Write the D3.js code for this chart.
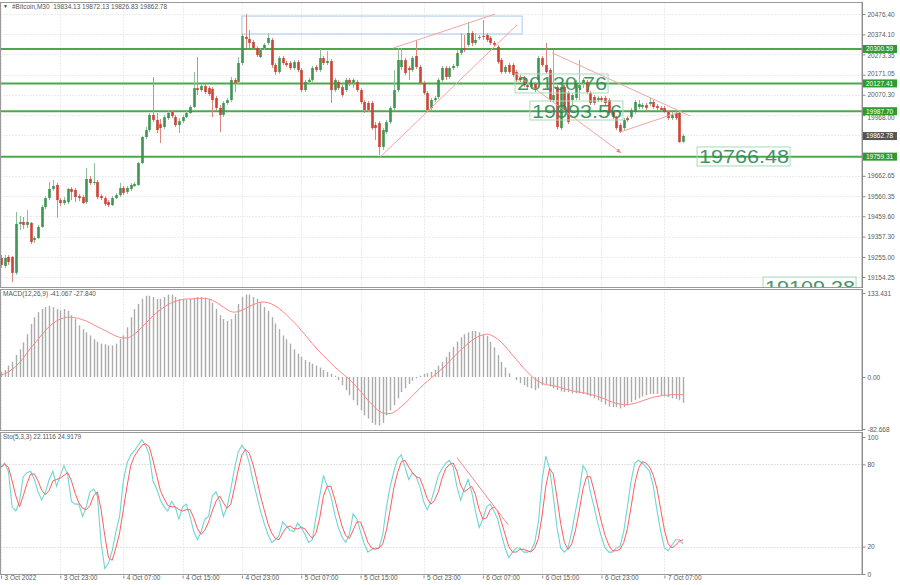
<!DOCTYPE html>
<html><head><meta charset="utf-8">
<script src="https://cdn.jsdelivr.net/npm/d3@7"></script>
<style>body{margin:0;background:#fff}svg{display:block}text{font-family:"Liberation Sans",Arial,sans-serif}</style>
</head><body><svg id="c" width="900" height="585"></svg>
<script>
// ---- DATA ----
const symbolTitle = "#Bitcoin,M30  19834.13 19872.13 19826.83 19862.78";
const macdTitle = "MACD(12,26,9) -41.067 -27.840";
const stochTitle = "Sto(5,3,3) 22.1116 24.9179";
const open=[19250,19210,19255,19255,19175,19421,19431,19416,19426,19340,
19350,19406,19506,19551,19597,19617,19541,19526,19531,19597,
19592,19561,19556,19531,19647,19627,19632,19561,19551,19531,
19516,19551,19566,19602,19582,19597,19612,19617,19727,19858,
19893,19969,19944,19923,19908,19953,19984,19958,19918,19938,
19958,19979,20009,20104,20094,20114,20104,20099,20054,20004,
19969,20029,20044,20145,20135,20230,20361,20351,20336,20305,
20260,20305,20331,20346,20220,20185,20255,20230,20230,20205,
20235,20195,20094,20135,20145,20210,20195,20255,20230,20240,
20094,20135,20109,20094,20145,20130,20135,20094,20034,20029,
20029,19918,19928,19808,19883,19933,20004,20094,20210,20245,
20205,20195,20265,20210,20130,20079,20004,20044,20059,20145,
20205,20160,20205,20215,20280,20305,20321,20381,20331,20356,
20366,20371,20356,20331,20311,20245,20185,20220,20220,20185,
20160,20155,20119,20109,20124,20145,20255,20220,20195,20044,
20109,19903,20109,20079,20044,20054,20104,20130,20135,20079,
20059,20044,20054,20054,20044,19984,19953,19918,19903,19953,
19958,19984,20009,20009,20019,20024,20034,20014,20004,20004,
19984,19953,19979,19979,19834];
const close=[19215,19250,19230,19175,19421,19431,19416,19431,19330,19350,
19406,19506,19551,19597,19612,19541,19526,19541,19597,19582,
19556,19551,19526,19647,19627,19632,19556,19551,19521,19516,
19551,19566,19602,19577,19602,19617,19622,19727,19858,19893,
19969,19944,19893,19903,19958,19979,19964,19918,19938,19958,
19979,20009,20104,20094,20114,20084,20074,20044,20004,19969,
20029,20044,20145,20130,20230,20366,20351,20331,20305,20270,
20295,20321,20356,20220,20185,20255,20230,20220,20205,20235,
20195,20094,20135,20145,20205,20195,20255,20230,20240,20094,
20145,20104,20069,20145,20130,20145,20094,20034,19994,19994,
19903,19903,19808,19893,19933,20004,20094,20245,20245,20180,
20195,20255,20210,20130,20079,19994,20044,20054,20145,20205,
20160,20205,20215,20280,20305,20295,20381,20331,20346,20361,
20361,20346,20331,20321,20235,20185,20210,20185,20170,20145,
20145,20119,20109,20130,20094,20255,20220,20185,20044,20069,
19908,20109,19994,19933,20069,20130,20119,20145,20084,20029,
20029,20054,20044,20029,19979,19958,19903,19883,19943,19943,
19994,20034,20024,20019,20004,20034,20009,20004,19994,19984,
19953,19969,19953,19833,19863];
const high=[19265,19265,19265,19260,19481,19461,19456,19491,19431,19360,
19416,19516,19561,19632,19642,19627,19551,19556,19602,19607,
19602,19571,19566,19702,19662,19727,19642,19571,19561,19541,
19561,19577,19627,19612,19612,19627,19632,19732,19863,19908,
19979,20160,19979,19948,19969,19989,19994,19969,19953,19969,
19989,20019,20185,20260,20124,20124,20114,20109,20064,20019,
20039,20054,20160,20155,20260,20376,20476,20396,20346,20315,
20305,20331,20381,20356,20230,20265,20265,20240,20240,20245,
20245,20205,20145,20155,20215,20220,20300,20265,20290,20250,
20155,20145,20119,20155,20155,20155,20145,20104,20044,20039,
20039,19933,19938,19903,19943,20014,20195,20305,20305,20255,
20215,20265,20346,20220,20140,20089,20054,20064,20155,20215,
20215,20215,20225,20295,20381,20371,20436,20391,20381,20371,
20446,20381,20366,20341,20321,20255,20220,20230,20230,20195,
20170,20165,20130,20140,20135,20265,20265,20331,20205,20295,
20119,20119,20119,20089,20079,20145,20245,20155,20145,20089,
20069,20064,20064,20064,20054,19994,19963,19928,19953,19963,
20004,20044,20044,20029,20029,20054,20044,20024,20014,20014,
19994,19984,19989,19989,19873];
const low=[19200,19200,19215,19129,19165,19391,19396,19401,19320,19325,
19345,19401,19496,19541,19587,19451,19511,19516,19521,19541,
19531,19536,19521,19521,19617,19617,19546,19541,19511,19506,
19511,19546,19556,19566,19571,19587,19607,19612,19722,19848,
19883,19933,19878,19828,19898,19944,19953,19908,19878,19928,
19953,19974,20004,20069,20084,20074,20064,19958,19994,19883,
19958,20019,20034,20084,20124,20220,20305,20305,20295,20260,
20255,20295,20321,20205,20170,20175,20220,20210,20195,20195,
20185,20084,20084,20124,20135,20185,20185,20220,20220,20029,
20084,20094,20059,20084,20114,20104,20084,20024,19979,19984,
19893,19843,19768,19793,19873,19923,19994,20084,20195,20170,
20145,20185,20200,20119,20069,19984,19994,20034,20049,20135,
20145,20150,20195,20205,20270,20285,20311,20315,20321,20346,
20346,20336,20321,20311,20225,20175,20175,20175,20160,20135,
20135,20109,20099,20099,20084,20135,20210,20175,20034,20034,
19898,19893,19984,19923,20019,20044,20044,20104,20074,20019,
20019,20034,20034,20019,19969,19948,19893,19878,19893,19933,
19948,19974,19999,19999,19994,20014,19999,19994,19984,19979,
19943,19943,19943,19828,19827];
const macdHist=[8,11,18,24,35,44,55,68,84,95,103,108,111,113,111,108,106,108,105,98,
92,82,76,71,66,60,56,53,52,50,50,53,60,66,79,95,108,116,124,129,
129,127,124,124,127,131,131,127,124,124,123,124,126,127,127,126,124,118,108,98,
92,89,92,100,116,127,131,131,127,124,119,111,105,95,85,76,66,60,53,44,
37,32,27,24,21,18,15,11,8,5,2,-5,-13,-21,-29,-37,-45,-53,-61,-66,
-73,-76,-77,-73,-61,-53,-45,-34,-24,-18,-11,-6,-2,2,5,6,8,11,18,24,
32,40,48,56,63,68,71,73,73,71,68,65,56,47,35,24,15,6,0,-5,
-10,-13,-16,-18,-21,-18,-13,-11,-15,-18,-21,-23,-24,-24,-26,-26,-26,-27,-29,-31,
-34,-37,-40,-44,-47,-48,-48,-50,-48,-45,-40,-37,-34,-31,-29,-27,-27,-27,-29,-31,
-32,-34,-35,-37,-41];
const macdSignal=[3,5,8,12,17,23,30,38,46,53,60,67,74,80,85,89,92,94,95,95,
94,93,91,89,86,83,80,77,74,71,68,65,63,62,62,64,68,73,79,85,
91,97,102,107,111,115,118,120,122,123,124,124,124,125,125,125,124,122,119,115,
111,107,104,103,104,106,109,112,115,117,119,119,118,116,113,109,104,99,93,87,
81,74,67,60,53,46,40,34,28,22,16,11,6,1,-4,-10,-16,-23,-30,-37,
-43,-49,-54,-57,-58,-58,-56,-52,-47,-42,-36,-30,-24,-18,-12,-7,-2,3,8,13,
19,25,31,37,43,48,53,58,62,65,67,68,67,64,60,55,49,42,35,28,
21,14,8,2,-3,-7,-10,-12,-13,-14,-15,-17,-19,-20,-22,-23,-24,-25,-26,-28,
-29,-31,-33,-35,-38,-40,-42,-43,-44,-44,-43,-42,-40,-38,-36,-34,-32,-31,-30,-29,
-29,-28,-28,-28,-28];
const stochMain=[78,81,75,49,46,53,71,74,75,69,60,54,60,69,75,64,72,79,72,53,
51,51,42,49,60,62,57,23,4,8,17,31,42,68,81,87,90,94,98,94,
87,68,62,54,49,46,53,49,40,49,51,42,31,25,31,40,42,57,60,53,
42,49,62,77,89,94,90,81,68,57,46,37,29,23,25,28,38,35,32,31,
37,34,29,23,25,42,57,72,64,57,44,34,27,23,29,44,40,31,22,16,
18,19,19,29,49,64,75,84,87,78,69,74,71,64,53,47,53,62,72,77,
81,83,78,64,54,62,69,60,46,34,40,49,51,46,40,29,19,12,16,19,
19,16,16,17,23,38,69,86,77,57,34,19,16,19,31,46,60,79,75,60,
49,37,27,19,16,16,19,20,31,49,68,81,83,81,78,75,64,46,31,19,
17,21,25,25,22];
const stochSignal=[78,80,78,68,57,49,57,66,73,73,68,61,58,61,68,69,70,72,74,68,
59,52,48,47,50,57,60,47,28,12,10,19,30,47,64,79,86,90,94,95,
93,83,72,61,55,50,49,49,47,46,47,47,41,33,29,32,38,46,53,57,
52,48,51,63,76,87,91,88,80,69,57,47,37,30,26,25,30,34,35,33,
33,34,33,29,26,30,41,57,64,64,55,45,35,28,26,32,38,38,31,23,
19,18,19,22,32,47,63,74,82,83,78,74,71,70,63,55,51,54,60,70,
77,80,81,75,65,60,62,64,58,47,40,41,47,49,46,38,29,20,16,16,
18,18,17,16,19,26,43,64,77,73,56,37,23,18,22,32,46,62,71,71,
61,49,38,28,21,17,17,18,23,33,49,66,77,82,81,78,72,62,47,32,
22,19,21,24,25];
const timeLabels=["3 Oct 2022","3 Oct 23:00","4 Oct 07:00","4 Oct 15:00","4 Oct 23:00","5 Oct 07:00","5 Oct 15:00","5 Oct 23:00","6 Oct 07:00","6 Oct 15:00","6 Oct 23:00","7 Oct 07:00"];
const timeLabelBars=[0,16,33,49,65,81,97,114,130,146,162,179];
const gridPrices=[20476.40,20374.10,20273.35,20171.05,20070.30,19968.00,19865.70,19764.95,19662.65,19560.35,19459.60,19357.30,19255.00,19154.25];
const priceTicks=[20476.40,20374.10,20273.35,20171.05,20070.30,19968.00,19662.65,19560.35,19459.60,19357.30,19255.00,19154.25];
const macdTicks=[133.431,0,-82.668];
const macdTickLabels=["133.431","0.00","-82.668"];
const stochTicks=[100,80,20,0];
const levels=[20300.59,20127.41,19987.70,19759.31];
const bidPrice=19862.78;
const trendLines=[[102.3,19757,139.2,20421],[105.8,20305,133.3,20476],[148.7,20281,185.9,19964],[139.5,20165,167.3,19778],[167,19883,182.4,19979]];
const arrowLine=3;
const boxAnno=[65.0,20466,140.6,20376];
const stochLine=[123,85,136.8,36];
const textLabels=["20130.76","19993.56","19766.48","19109.38"];
const textBars=[138.7,142.7,187.8,205.6];
const textPrices=[20175,20039,19808,19154];

// ---- DRAW ----
const svg=d3.select("#c");
const AX=862;
const P={main:[2,288],macd:[289,431],sto:[432,575]};
const x=d3.scaleLinear().domain([0,open.length-1]).range([1,683]);
const yM=d3.scaleLinear().domain([19154.25,20476.40]).range([277,14]);
const yD=d3.scaleLinear().domain([-82.668,133.431]).range([429,293]);
const yS=d3.scaleLinear().domain([0,100]).range([574,437]);
const defs=svg.append("defs");
Object.entries(P).forEach(([k,[a,b]])=>{
  defs.append("clipPath").attr("id","cl-"+k).append("rect").attr("x",0).attr("y",a).attr("width",AX).attr("height",b-a);
});
const grid="#ececec";
Object.entries(P).forEach(([k,[a,b]])=>{
  svg.append("g").selectAll("line").data(timeLabelBars).join("line")
    .attr("x1",d=>Math.round(x(d))+0.5).attr("x2",d=>Math.round(x(d))+0.5)
    .attr("y1",a).attr("y2",b).attr("stroke",grid).attr("stroke-dasharray","2,1");
});
svg.append("g").selectAll("line").data(gridPrices).join("line")
  .attr("x1",0).attr("x2",AX).attr("y1",d=>Math.round(yM(d))+0.5).attr("y2",d=>Math.round(yM(d))+0.5)
  .attr("stroke",grid).attr("stroke-dasharray","2,1");
svg.append("g").selectAll("line").data([80,20]).join("line")
  .attr("x1",0).attr("x2",AX).attr("y1",d=>Math.round(yS(d))+0.5).attr("y2",d=>Math.round(yS(d))+0.5)
  .attr("stroke","#e2e2e2").attr("stroke-dasharray","2,1");

// main panel
const gm=svg.append("g").attr("clip-path","url(#cl-main)");
gm.selectAll("line.lvl").data(levels).join("line").attr("class","lvl")
  .attr("x1",0).attr("x2",AX).attr("y1",d=>yM(d)).attr("y2",d=>yM(d))
  .attr("stroke","#4aaa4a").attr("stroke-width",2);
gm.append("rect").attr("x",x(boxAnno[0])).attr("y",yM(boxAnno[1]))
  .attr("width",x(boxAnno[2])-x(boxAnno[0])).attr("height",yM(boxAnno[3])-yM(boxAnno[1]))
  .attr("fill","none").attr("stroke","#a8c8ea").attr("stroke-width",1);
const idx=d3.range(open.length);
const up="#3f9552", dn="#cf4334";
gm.append("g").selectAll("line").data(idx).join("line")
  .attr("x1",i=>Math.round(x(i))+0.5).attr("x2",i=>Math.round(x(i))+0.5)
  .attr("y1",i=>yM(high[i])).attr("y2",i=>yM(low[i]))
  .attr("stroke",i=>close[i]>=open[i]?"#8fbf98":"#d98a80").attr("stroke-width",1);
gm.append("g").selectAll("rect").data(idx).join("rect")
  .attr("x",i=>Math.round(x(i))-0.8).attr("width",2.6)
  .attr("y",i=>yM(Math.max(open[i],close[i])))
  .attr("height",i=>Math.max(1,Math.abs(yM(open[i])-yM(close[i]))))
  .attr("fill",i=>close[i]>=open[i]?up:dn);
gm.append("g").selectAll("line").data(trendLines).join("line")
  .attr("x1",d=>x(d[0])).attr("y1",d=>yM(d[1])).attr("x2",d=>x(d[2])).attr("y2",d=>yM(d[3]))
  .attr("stroke","#f5a3a3").attr("stroke-width",1);
{
  const d=trendLines[arrowLine];
  const x2=x(d[2]),y2=yM(d[3]),ang=Math.atan2(y2-yM(d[1]),x2-x(d[0]));
  const pts=[[x2,y2],[x2-5*Math.cos(ang-0.4),y2-5*Math.sin(ang-0.4)],[x2-5*Math.cos(ang+0.4),y2-5*Math.sin(ang+0.4)]];
  gm.append("path").attr("d","M"+pts.map(p=>p.join(",")).join("L")+"Z").attr("fill","#f08080");
}
textLabels.forEach((t,k)=>{
  const tx=x(textBars[k]), ty=yM(textPrices[k]);
  const g=gm.append("g");
  g.append("rect").attr("x",tx).attr("y",ty).attr("width",93).attr("height",19)
    .attr("fill","none").attr("stroke","#a9dbb6").attr("stroke-width",1);
  g.append("text").attr("x",tx+2).attr("y",ty+16.5).text(t)
    .attr("font-family","DejaVu Sans").attr("font-size",19).attr("textLength",90).attr("lengthAdjust","spacingAndGlyphs")
    .attr("fill","#2f8a58").attr("fill-opacity",0.92);
});

// MACD panel
const gd=svg.append("g").attr("clip-path","url(#cl-macd)");
gd.append("g").selectAll("rect").data(idx).join("rect")
  .attr("x",i=>Math.round(x(i))-0.2).attr("width",1.4)
  .attr("y",i=>Math.min(yD(0),yD(macdHist[i])))
  .attr("height",i=>Math.abs(yD(macdHist[i])-yD(0)))
  .attr("fill","#ababab");
gd.append("path").datum(idx).attr("fill","none").attr("stroke","#ff8585").attr("stroke-width",1)
  .attr("d",d3.line().x(i=>x(i)).y(i=>yD(macdSignal[i])).curve(d3.curveMonotoneX));

// Stoch panel
const gs=svg.append("g").attr("clip-path","url(#cl-sto)");
gs.append("path").datum(idx).attr("fill","none").attr("stroke","#72d4d4").attr("stroke-width",1.1)
  .attr("d",d3.line().x(i=>x(i)).y(i=>yS(stochMain[i])));
gs.append("path").datum(idx).attr("fill","none").attr("stroke","#ff5c5c").attr("stroke-width",1)
  .attr("d",d3.line().x(i=>x(i)).y(i=>yS(stochSignal[i])));
gs.append("line").attr("x1",x(stochLine[0])).attr("y1",yS(stochLine[1])).attr("x2",x(stochLine[2])).attr("y2",yS(stochLine[3]))
  .attr("stroke","#f08a8a").attr("stroke-width",1);

// frames
Object.values(P).forEach(([a,b])=>{
  svg.append("rect").attr("x",0.5).attr("y",a+0.5).attr("width",AX-0.5).attr("height",b-a-1)
    .attr("fill","none").attr("stroke","#9a9a9a").attr("stroke-width",1);
});

// axes
function styleAxis(g){
  g.select(".domain").attr("stroke","#8a8a8a");
  g.selectAll(".tick line").attr("stroke","#8a8a8a");
  g.selectAll("text").attr("fill","#5a5a5a").attr("font-size",6.5).attr("font-family","Liberation Sans, Arial");
}
const tagVals=levels.concat([bidPrice]);
svg.append("g").attr("transform",`translate(${AX+0.5},0)`)
  .call(d3.axisRight(yM).tickValues(priceTicks).tickFormat(d3.format(".2f")).tickSize(3).tickPadding(2))
  .call(styleAxis).call(g=>g.select(".domain").attr("d","M0,2V288"))
  .call(g=>g.selectAll(".tick text").attr("dy",d=>{
    const near=tagVals.find(v=>Math.abs(yM(v)-yM(d))<9);
    if(near===undefined) return "0.32em";
    return (yM(d)>yM(near)? (yM(near)+8.2-yM(d))+"px" : (yM(near)-7.5-yM(d))+"px");
  }));
svg.append("g").attr("transform",`translate(${AX+0.5},0)`)
  .call(d3.axisRight(yD).tickValues(macdTicks).tickFormat((d,i)=>macdTickLabels[i]).tickSize(3).tickPadding(2))
  .call(styleAxis).call(g=>g.select(".domain").attr("d","M0,289V431"));
svg.append("g").attr("transform",`translate(${AX+0.5},0)`)
  .call(d3.axisRight(yS).tickValues(stochTicks).tickFormat(d3.format("d")).tickSize(3).tickPadding(2))
  .call(styleAxis).call(g=>g.select(".domain").attr("d","M0,432V575"));
const xa=svg.append("g").attr("transform","translate(0,575.5)")
  .call(d3.axisBottom(x).tickValues(timeLabelBars).tickFormat((d,i)=>timeLabels[i]).tickSize(3).tickPadding(2))
  .call(styleAxis);
xa.select(".domain").remove();
xa.selectAll(".tick text").attr("text-anchor","start").attr("dx",3).attr("dy","-0.1em");

// price tags
const tags=levels.map(v=>({v,fill:"#2e9b30"})).concat([{v:bidPrice,fill:"#555"}]);
const tg=svg.append("g");
tags.forEach(t=>{
  const yy=yM(t.v);
  tg.append("rect").attr("x",AX+1).attr("y",yy-4).attr("width",34).attr("height",8).attr("fill",t.fill);
  tg.append("text").attr("x",AX+4).attr("y",yy+2.3).text(d3.format(".2f")(t.v))
    .attr("fill","#fff").attr("font-size",6.5);
});

// titles
svg.append("text").attr("x",3).attr("y",8).text("▼").attr("font-size",5).attr("fill","#444");
svg.append("text").attr("x",12).attr("y",8.5).text(symbolTitle).attr("font-size",6.5).attr("fill","#555").style("white-space","pre");
svg.append("text").attr("x",3).attr("y",296).text(macdTitle).attr("font-size",6.5).attr("fill","#555");
svg.append("text").attr("x",3).attr("y",439).text(stochTitle).attr("font-size",6.5).attr("fill","#555");
</script></body></html>
